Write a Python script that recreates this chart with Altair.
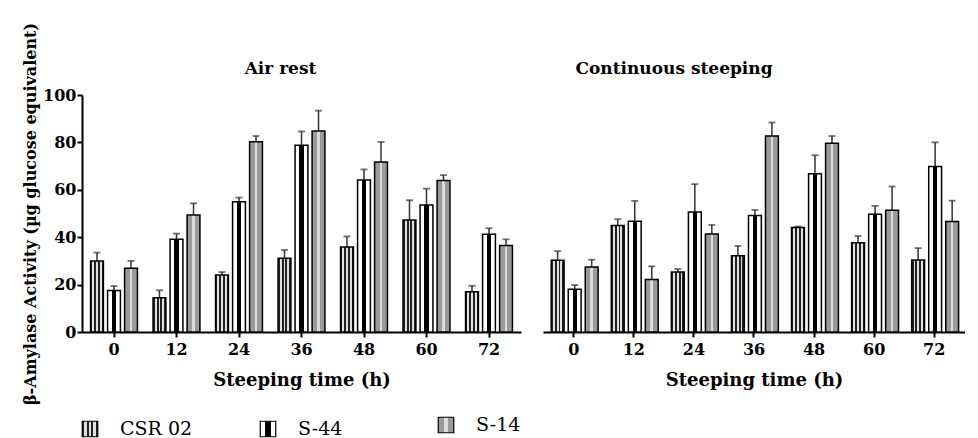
import altair as alt
import pandas as pd

times = ["0", "12", "24", "36", "48", "60", "72"]
series = ["CSR 02", "S-44", "S-14"]

# Air rest panel (mean, error)
air_csr = [30.0, 14.5, 24.1, 31.1, 35.9, 47.3, 17.0]
air_csr_err = [3.5, 3.1, 1.2, 3.5, 4.4, 8.3, 2.5]
air_s44 = [17.5, 39.1, 55.0, 78.8, 64.1, 53.6, 41.2]
air_s44_err = [1.9, 2.4, 1.7, 5.8, 4.5, 6.9, 2.6]
air_s14 = [26.9, 49.4, 80.3, 84.8, 71.7, 63.9, 36.5]
air_s14_err = [3.1, 4.9, 2.4, 8.6, 8.5, 2.3, 2.6]

# Continuous steeping panel (mean, error)
cont_csr = [30.3, 44.9, 25.3, 32.2, 44.1, 37.7, 30.4]
cont_csr_err = [3.8, 2.7, 1.3, 4.1, 0.4, 2.8, 5.0]
cont_s44 = [18.0, 46.7, 50.6, 49.2, 66.8, 49.7, 69.8]
cont_s44_err = [1.8, 8.6, 11.8, 2.3, 7.8, 3.5, 10.2]
cont_s14 = [27.4, 22.2, 41.4, 82.7, 79.6, 51.4, 46.6]
cont_s14_err = [3.1, 5.5, 3.8, 5.7, 3.1, 10.0, 8.8]

FONT = "DejaVu Serif"


def frame(vals, errs):
    rows = []
    for s, v, e in zip(series, vals, errs):
        for t, vv, ee in zip(times, v, e):
            rows.append({"time": t, "series": s, "value": vv, "err": ee, "upper": vv + ee})
    return pd.DataFrame(rows)


air_df = frame([air_csr, air_s44, air_s14], [air_csr_err, air_s44_err, air_s14_err])
cont_df = frame([cont_csr, cont_s44, cont_s14], [cont_csr_err, cont_s44_err, cont_s14_err])


def stripes(colors):
    n = len(colors)
    stops = []
    for i, c in enumerate(colors):
        stops.append(alt.GradientStop(offset=i / n, color=c))
        stops.append(alt.GradientStop(offset=(i + 1) / n, color=c))
    return alt.LinearGradient(gradient="linear", x1=0, y1=0, x2=1, y2=0, stops=stops)


fills = {
    "CSR 02": stripes(["#222", "#e0e0e0", "#222", "#e0e0e0", "#222", "#e0e0e0", "#222"]),
    "S-44": stripes(["#ffffff", "#000000", "#ffffff"]),
    "S-14": stripes(["#9a9a9a", "#9a9a9a", "#dcdcdc", "#9a9a9a", "#9a9a9a"]),
}


def panel(df, title, width, show_y, title_dx):
    x = alt.X(
        "time:N", sort=times,
        scale=alt.Scale(paddingInner=0.25, paddingOuter=0.137),
        axis=alt.Axis(title="Steeping time (h)", labelAngle=0, labelFontSize=16,
                      titleFontSize=18, labelPadding=4, titlePadding=14),
    )
    xo = alt.XOffset("series:N", sort=series,
                     scale=alt.Scale(domain=series, paddingInner=0.245, paddingOuter=0))
    if show_y:
        yaxis = alt.Axis(title="β-Amylase Activity (µg glucose equivalent)", values=[0, 20, 40, 60, 80, 100],
                         labelFontSize=16, titleFontSize=16, titlePadding=4, labelPadding=1)
    else:
        yaxis = None
    yscale = alt.Scale(domain=[0, 100], nice=False)
    y = alt.Y("value:Q", scale=yscale, axis=yaxis)
    y_up = alt.Y("upper:Q", scale=yscale, axis=yaxis)
    base = alt.Chart(df)
    layers = []
    for s in series:
        layers.append(
            base.transform_filter(alt.datum.series == s)
            .mark_bar(fill=fills[s], stroke="black", strokeWidth=1.5)
            .encode(x=x, xOffset=xo, y=y)
        )
    rules = base.mark_rule(color="#333", strokeWidth=1.5).encode(
        x=x, xOffset=xo, y=y, y2="upper:Q")
    caps = base.mark_tick(color="#333", size=7, thickness=1.8).encode(
        x=x, xOffset=xo, y=y_up)
    head = alt.Chart(pd.DataFrame({"label": [title]})).mark_text(
        font=FONT, fontSize=17, fontWeight="bold", color="black",
        align="center", baseline="alphabetic",
    ).encode(text="label:N", x=alt.value(width / 2 + title_dx), y=alt.value(-21))
    return alt.layer(rules, caps, *layers, head).properties(width=width, height=237)


left = panel(air_df, "Air rest", 439, True, -21)
right = panel(cont_df, "Continuous steeping", 422, False, -80)

top = alt.hconcat(left, right, spacing=22)

leg_df = pd.DataFrame({"series": series})
lx = alt.X("series:N", sort=series, scale=alt.Scale(paddingInner=0, paddingOuter=0, align=0),
           axis=None, bandPosition=0)
leg_layers = []
for s in series:
    yo = -4 if s == "S-14" else 0
    b = alt.Chart(leg_df).transform_filter(alt.datum.series == s)
    leg_layers.append(b.mark_square(size=240, fill=fills[s], stroke="black", strokeWidth=1.2,
                                    opacity=1, xOffset=8, yOffset=yo).encode(x=lx))
    leg_layers.append(b.mark_text(align="left", baseline="middle", dx=38, dy=yo, fontSize=19,
                                  font=FONT, color="black").encode(x=lx, text="series:N"))
legend = alt.layer(*leg_layers).properties(width=534, height=14)

chart = alt.vconcat(top, legend, spacing=9).properties(
    padding={"left": 14, "top": 14, "right": 0, "bottom": 0}
).configure_view(stroke=None).configure_axis(
    labelFont=FONT, titleFont=FONT, labelFontWeight="bold", titleFontWeight="bold",
    labelColor="black", titleColor="black", domainColor="black", domainWidth=2,
    tickColor="black", tickWidth=2, tickSize=5, grid=False,
)

chart.save("out.html", embed_options={"renderer": "svg", "actions": False})
